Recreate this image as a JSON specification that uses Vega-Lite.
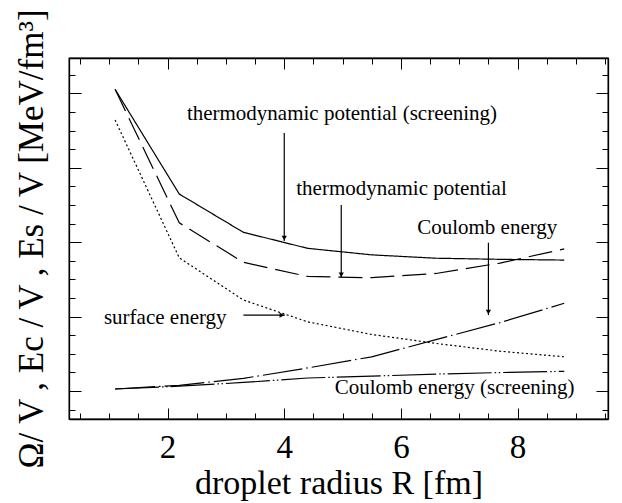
{
  "$schema": "https://vega.github.io/schema/vega-lite/v6.json",
  "width": 539,
  "height": 361,
  "autosize": {"type": "none"},
  "padding": {"left": 69, "top": 58, "right": 14, "bottom": 84},
  "background": "white",
  "config": {
    "view": {"stroke": "black", "strokeWidth": 1.3},
    "font": "Liberation Serif",
    "axis": {
      "domainColor": "black",
      "domainWidth": 1.3,
      "tickColor": "black",
      "tickWidth": 1,
      "grid": false,
      "labelColor": "black",
      "titleColor": "black",
      "labelFont": "Liberation Serif",
      "titleFont": "Liberation Serif",
      "titleFontWeight": "normal",
      "labelFlush": false,
      "labelOverlap": false
    }
  },
  "datasets": {
    "curves": [
      {"curve": "TPs", "R": 1.1, "v": 4.055},
      {"curve": "TPs", "R": 2.2, "v": 2.648},
      {"curve": "TPs", "R": 3.3, "v": 2.133},
      {"curve": "TPs", "R": 4.4, "v": 1.918},
      {"curve": "TPs", "R": 5.5, "v": 1.83},
      {"curve": "TPs", "R": 6.6, "v": 1.785},
      {"curve": "TPs", "R": 7.7, "v": 1.77},
      {"curve": "TPs", "R": 8.8, "v": 1.76},
      {"curve": "TP", "R": 1.1, "v": 4.055},
      {"curve": "TP", "R": 2.2, "v": 2.26},
      {"curve": "TP", "R": 3.3, "v": 1.73},
      {"curve": "TP", "R": 4.4, "v": 1.54},
      {"curve": "TP", "R": 5.5, "v": 1.523},
      {"curve": "TP", "R": 6.6, "v": 1.58},
      {"curve": "TP", "R": 7.7, "v": 1.72},
      {"curve": "TP", "R": 8.8, "v": 1.91},
      {"curve": "SE", "R": 1.1, "v": 3.643},
      {"curve": "SE", "R": 2.2, "v": 1.79},
      {"curve": "SE", "R": 3.3, "v": 1.223},
      {"curve": "SE", "R": 4.4, "v": 0.93},
      {"curve": "SE", "R": 5.5, "v": 0.76},
      {"curve": "SE", "R": 6.6, "v": 0.64},
      {"curve": "SE", "R": 7.7, "v": 0.535},
      {"curve": "SE", "R": 8.8, "v": 0.46},
      {"curve": "CE", "R": 1.1, "v": 0.027},
      {"curve": "CE", "R": 2.2, "v": 0.077},
      {"curve": "CE", "R": 3.3, "v": 0.17},
      {"curve": "CE", "R": 4.4, "v": 0.31},
      {"curve": "CE", "R": 5.5, "v": 0.46},
      {"curve": "CE", "R": 6.6, "v": 0.69},
      {"curve": "CE", "R": 7.7, "v": 0.92},
      {"curve": "CE", "R": 8.8, "v": 1.18},
      {"curve": "CEs", "R": 1.1, "v": 0.027},
      {"curve": "CEs", "R": 2.2, "v": 0.065},
      {"curve": "CEs", "R": 3.3, "v": 0.115},
      {"curve": "CEs", "R": 4.4, "v": 0.175},
      {"curve": "CEs", "R": 5.5, "v": 0.2},
      {"curve": "CEs", "R": 6.6, "v": 0.228},
      {"curve": "CEs", "R": 7.7, "v": 0.248},
      {"curve": "CEs", "R": 8.8, "v": 0.265}
    ],
    "labels": [
      {"text": "thermodynamic potential (screening)", "R": 4.99, "v": 3.642},
      {"text": "thermodynamic potential", "R": 6.01, "v": 2.634},
      {"text": "Coulomb energy", "R": 7.48, "v": 2.11},
      {"text": "surface energy", "R": 1.96, "v": 0.9},
      {"text": "Coulomb energy (screening)", "R": 6.92, "v": -0.04}
    ],
    "arrows": [
      {"dir": "down", "R": 4.0, "v": 3.468, "R2": 4.0, "v2": 2.016},
      {"dir": "down", "R": 4.977, "v": 2.5, "R2": 4.977, "v2": 1.523},
      {"dir": "down", "R": 7.5, "v": 1.993, "R2": 7.5, "v2": 1.021},
      {"dir": "right", "R": 3.3, "v": 1.02, "R2": 4.01, "v2": 1.02}
    ]
  },
  "layer": [
    {
      "data": {"name": "curves"},
      "mark": {"type": "line", "color": "black", "strokeWidth": 1.2, "clip": true},
      "encoding": {
        "x": {
          "field": "R", "type": "quantitative",
          "scale": {"domain": [0.31, 9.55], "nice": false, "zero": false},
          "axis": {
            "orient": "bottom",
            "title": "droplet radius R [fm]",
            "titleFontSize": 34,
            "titlePadding": -3,
            "labelFontSize": 33,
            "labelPadding": 23,
            "values": [0.5, 1, 1.5, 2, 2.5, 3, 3.5, 4, 4.5, 5, 5.5, 6, 6.5, 7, 7.5, 8, 8.5, 9, 9.5],
            "labelExpr": "(datum.value == 2 || datum.value == 4 || datum.value == 6 || datum.value == 8) ? format(datum.value, 'd') : ''",
            "tickSize": {"condition": {"test": "datum.value == 2 || datum.value == 4 || datum.value == 6 || datum.value == 8", "value": -11}, "value": -6}
          }
        },
        "y": {
          "field": "v", "type": "quantitative",
          "scale": {"domain": [-0.376, 4.476], "nice": false, "zero": false},
          "axis": {
            "orient": "left",
            "title": "Ω/ V , Ec / V , Es / V [MeV/fm³]",
            "titleFontSize": 35,
            "titlePadding": 19,
            "labels": false,
            "values": [-0.25, 0, 0.25, 0.5, 0.75, 1, 1.25, 1.5, 1.75, 2, 2.25, 2.5, 2.75, 3, 3.25, 3.5, 3.75, 4, 4.25],
            "tickSize": {"condition": {"test": "datum.value == 0 || datum.value == 1 || datum.value == 2 || datum.value == 3 || datum.value == 4", "value": -12}, "value": -6}
          }
        },
        "strokeDash": {
          "field": "curve", "type": "nominal",
          "scale": {
            "domain": ["TPs", "TP", "SE", "CE", "CEs"],
            "range": [[1, 0], [24, 8], [2, 2.5], [40, 4, 1.5, 4], [44, 3, 1.5, 2.5, 1.5, 3]]
          },
          "legend": null
        }
      }
    },
    {
      "data": {"name": "curves"},
      "mark": {"type": "point", "opacity": 0},
      "encoding": {
        "x": {
          "field": "R", "type": "quantitative",
          "axis": {
            "orient": "top",
            "title": null,
            "labels": false,
            "values": [0.5, 1, 1.5, 2, 2.5, 3, 3.5, 4, 4.5, 5, 5.5, 6, 6.5, 7, 7.5, 8, 8.5, 9, 9.5],
            "tickSize": {"condition": {"test": "datum.value == 2 || datum.value == 4 || datum.value == 6 || datum.value == 8", "value": -11}, "value": -6}
          }
        },
        "y": {
          "field": "v", "type": "quantitative",
          "axis": {
            "orient": "right",
            "title": null,
            "labels": false,
            "values": [-0.25, 0, 0.25, 0.5, 0.75, 1, 1.25, 1.5, 1.75, 2, 2.25, 2.5, 2.75, 3, 3.25, 3.5, 3.75, 4, 4.25],
            "tickSize": {"condition": {"test": "datum.value == 0 || datum.value == 1 || datum.value == 2 || datum.value == 3 || datum.value == 4", "value": -12}, "value": -6}
          }
        }
      }
    },
    {
      "data": {"name": "labels"},
      "mark": {"type": "text", "font": "Liberation Serif", "fontSize": 21, "color": "black", "align": "center", "baseline": "alphabetic"},
      "encoding": {
        "x": {"field": "R", "type": "quantitative", "axis": null},
        "y": {"field": "v", "type": "quantitative", "axis": null},
        "text": {"field": "text"}
      }
    },
    {
      "data": {"name": "arrows"},
      "mark": {"type": "rule", "color": "black", "strokeWidth": 1.2},
      "encoding": {
        "x": {"field": "R", "type": "quantitative", "axis": null},
        "y": {"field": "v", "type": "quantitative", "axis": null},
        "x2": {"field": "R2"},
        "y2": {"field": "v2"}
      }
    },
    {
      "data": {"name": "arrows"},
      "transform": [{"filter": "datum.dir === 'down'"}],
      "mark": {"type": "point", "shape": "triangle-down", "size": 28, "filled": true, "color": "black", "opacity": 1, "yOffset": -3},
      "encoding": {
        "x": {"field": "R2", "type": "quantitative", "axis": null},
        "y": {"field": "v2", "type": "quantitative", "axis": null}
      }
    },
    {
      "data": {"name": "arrows"},
      "transform": [{"filter": "datum.dir === 'right'"}],
      "mark": {"type": "point", "shape": "triangle-right", "size": 28, "filled": true, "color": "black", "opacity": 1, "xOffset": -3},
      "encoding": {
        "x": {"field": "R2", "type": "quantitative", "axis": null},
        "y": {"field": "v2", "type": "quantitative", "axis": null}
      }
    }
  ],
  "resolve": {"axis": {"x": "independent", "y": "independent"}}
}
